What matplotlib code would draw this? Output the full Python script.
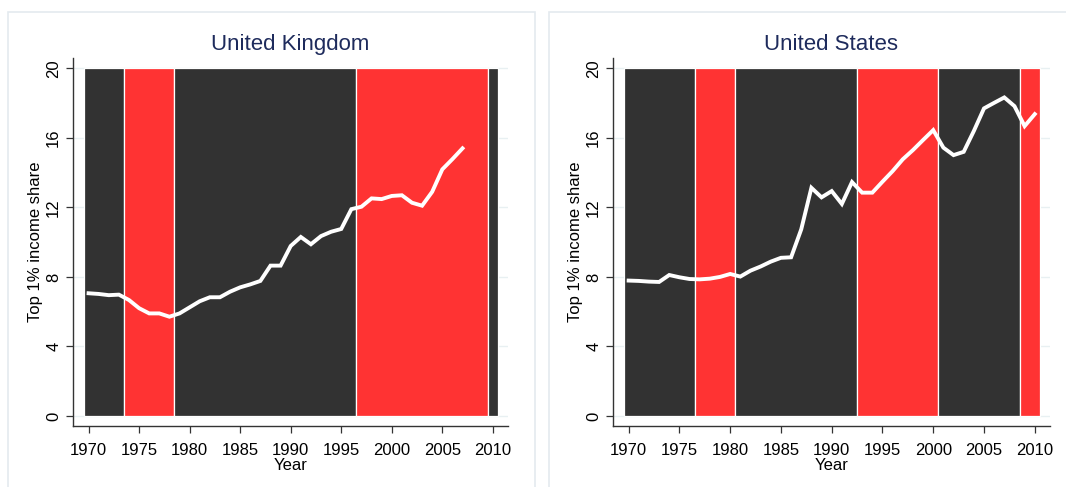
import matplotlib
matplotlib.use("Agg")
import matplotlib.pyplot as plt
from matplotlib.patches import Rectangle

plt.rcParams["font.family"] = ["Liberation Sans", "DejaVu Sans"]

years = list(range(1970, 2011))

uk_share = [7.06, 7.02, 6.95, 6.98, 6.67, 6.2, 5.9, 5.9, 5.71, 5.9,
            6.25, 6.6, 6.83, 6.83, 7.15, 7.4, 7.57, 7.77, 8.65, 8.65,
            9.78, 10.3, 9.88, 10.35, 10.6, 10.76, 11.9, 12.04, 12.52, 12.48,
            12.66, 12.7, 12.27, 12.1, 12.9, 14.19, 14.78, 15.4]
us_share = [7.79, 7.77, 7.73, 7.71, 8.11, 7.98, 7.88, 7.86, 7.9, 8.0,
            8.17, 8.02, 8.36, 8.6, 8.88, 9.1, 9.13, 10.74, 13.13, 12.58,
            12.94, 12.2, 13.46, 12.85, 12.85, 13.48, 14.09, 14.77, 15.3, 15.88,
            16.45, 15.44, 15.01, 15.2, 16.4, 17.7, 18.02, 18.33, 17.83, 16.68,
            17.37]

# (first year, last year, party) government periods
uk_periods = [(1970, 1973, "right"), (1974, 1978, "left"), (1979, 1996, "right"),
              (1997, 2009, "left"), (2010, 2010, "right")]
us_periods = [(1970, 1976, "right"), (1977, 1980, "left"), (1981, 1992, "right"),
              (1993, 2000, "left"), (2001, 2008, "right"), (2009, 2010, "left")]

COLORS = {"right": "#323232", "left": "#ff3333"}
TITLE_COLOR = "#1e2b5c"
W, H = 1066, 487

fig = plt.figure(figsize=(W / 100, H / 100), dpi=100)

# light panel frames (graph regions)
for x0, x1 in [(8, 535), (549, 1070)]:
    fig.patches.append(Rectangle((x0 / W, -0.1), (x1 - x0) / W, (H - 12) / H + 0.1,
                                 transform=fig.transFigure, fill=False,
                                 edgecolor="#e4eaef", lw=1.2))


def panel(left_px, right_px, title, periods, values):
    top, bottom = 58, 426
    ax = fig.add_axes([left_px / W, 1 - bottom / H,
                       (right_px - left_px) / W, (bottom - top) / H])
    for start, end, party in periods:
        ax.bar(start - 0.5, 20, width=end - start + 1, align="edge",
               color=COLORS[party], edgecolor="white", linewidth=0.9, zorder=2)
    ax.plot(years[:len(values)], values, color="white", lw=2.8, zorder=3,
            solid_joinstyle="miter")
    ax.set_xlim(1968.46, 2011.5)
    ax.set_ylim(-0.58, 20.6)
    ax.set_xticks(range(1970, 2011, 5))
    ax.set_yticks(range(0, 21, 4))
    ax.grid(axis="y", color="#e8f0f2", lw=1, zorder=0)
    ax.set_axisbelow(True)
    for s in ["top", "right"]:
        ax.spines[s].set_visible(False)
    for s in ["left", "bottom"]:
        ax.spines[s].set_color("#333333")
        ax.spines[s].set_linewidth(1.0)
    ax.tick_params(axis="both", direction="out", length=5, width=0.9,
                   color="#333333", labelsize=12)
    ax.tick_params(axis="x", pad=7)
    plt.setp(ax.get_yticklabels(), rotation=90, va="center")
    ax.set_xlabel("Year", fontsize=12, labelpad=0)
    ax.set_ylabel("Top 1% income share", fontsize=12, labelpad=2)
    ax.set_title(title, fontsize=16, color=TITLE_COLOR, pad=6)
    return ax


panel(73, 508, "United Kingdom", uk_periods, uk_share)
panel(613, 1050, "United States", us_periods, us_share)

fig.savefig("out.png", dpi=100)
